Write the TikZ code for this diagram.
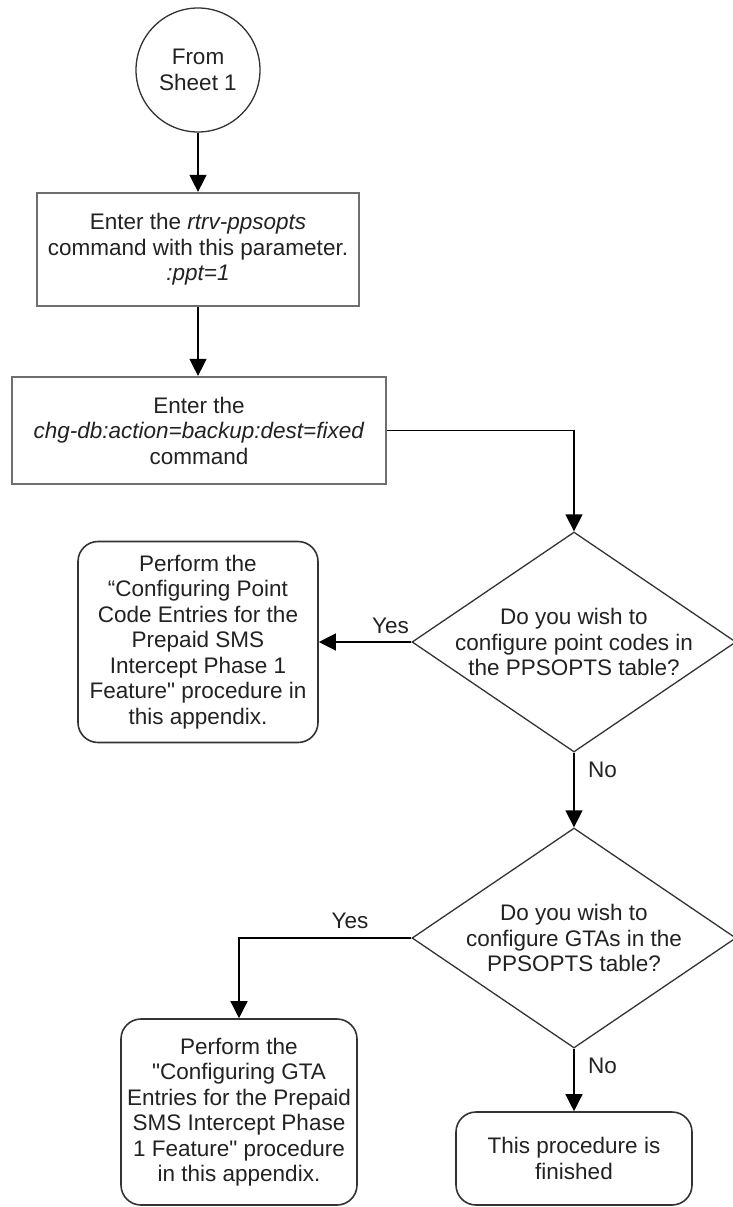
\documentclass[tikz,border=0pt]{standalone}
\usepackage{fontspec}
\setmainfont{Liberation Sans}
\usetikzlibrary{arrows.meta,shapes.geometric}
\definecolor{txt}{HTML}{222222}
\definecolor{boxgray}{HTML}{6E6E6E}
\definecolor{edge}{HTML}{333333}
\tikzset{
  base/.style={inner sep=0pt, align=center, text=txt},
  sqbox/.style={base, rectangle, draw=boxgray, line width=2.2pt},
  rbox/.style={base, rectangle, rounded corners=20pt, draw=edge, line width=1.6pt},
  dia/.style={diamond, draw=edge, line width=1.3pt, inner sep=0pt, minimum width=324pt, minimum height=220pt},
  circ/.style={base, circle, draw=edge, line width=1.3pt, minimum size=124pt},
  conn/.style={draw=black, line width=1.3pt, -{Triangle[length=17pt,width=17pt]}},
  lbl/.style={inner sep=0pt, text=txt}
}
\begin{document}
\begin{tikzpicture}[x=1pt,y=-1pt,font=\fontsize{22.5}{25.5}\selectfont]
\useasboundingbox[fill=white] (0,0) rectangle (732,1207);

\node[circ] (c1) at (198,70) {From\\Sheet 1};
\node[sqbox, minimum width=322pt, minimum height=113pt] (r1) at (198,249.5)
  {Enter the \textit{rtrv-ppsopts}\\command with this parameter.\\\textit{:ppt=1}};
\node[sqbox, minimum width=374pt, minimum height=107pt] (r2) at (199,430.5)
  {Enter the\\\textit{chg-db:action=backup:dest=fixed}\\command};

\node[dia] (d1) at (574,642) {};
\node[base] (t1) at (d1.center) {Do you wish to\\configure point codes in\\the PPSOPTS table?};
\node[rbox, minimum width=240pt, minimum height=201pt] (b1) at (198,642)
  {Perform the\\“Configuring Point\\Code Entries for the\\Prepaid SMS\\Intercept Phase 1\\Feature\textquotedbl{} procedure in\\this appendix.};

\node[dia] (d2) at (574,938) {};
\node[base] (t2) at (d2.center) {Do you wish to\\configure GTAs in the\\PPSOPTS table?};
\node[rbox, minimum width=236pt, minimum height=186pt] (b3) at (239,1112)
  {Perform the\\\textquotedbl Configuring GTA\\Entries for the Prepaid\\SMS Intercept Phase\\1 Feature\textquotedbl{} procedure\\in this appendix.};
\node[rbox, minimum width=236pt, minimum height=93pt] (b4) at (574,1158.5)
  {This procedure is\\finished};

\draw[conn] (c1.south) -- (r1.north);
\draw[conn] (r1.south) -- (r1.south |- r2.north);
\draw[conn] (r2.east) -| (d1.north);
\draw[conn] (d1.west) -- (b1.east);
\draw[conn] (d1.south) -- (d2.north);
\draw[conn] (d2.west) -| (b3.north);
\draw[conn] (d2.south) -- (b4.north);

\node[lbl, anchor=base east] (yes1) at (409,633) {Yes};
\node[lbl, anchor=base west] (no1) at (588,777) {No};
\node[lbl, anchor=base] (yes2) at (350,928) {Yes};
\node[lbl, anchor=base west] (no2) at (588,1073) {No};
\end{tikzpicture}
\end{document}
